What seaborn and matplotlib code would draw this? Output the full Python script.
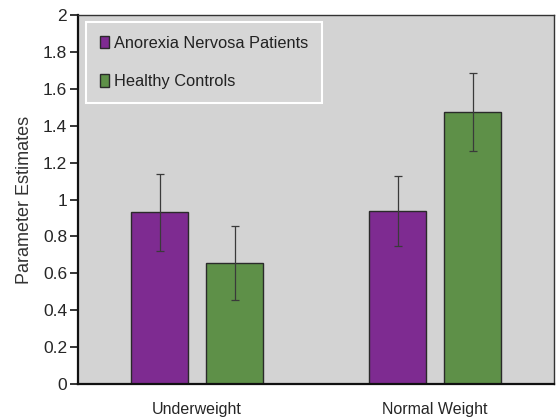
import pandas as pd
import matplotlib.pyplot as plt
import seaborn as sns

# values
conditions = ["Underweight", "Normal Weight"]
groups = ["Anorexia Nervosa Patients", "Healthy Controls"]
an_means = [0.93, 0.94]
hc_means = [0.655, 1.475]
an_err = [0.21, 0.19]
hc_err = [0.20, 0.21]
y_ticks = [0, 0.2, 0.4, 0.6, 0.8, 1, 1.2, 1.4, 1.6, 1.8, 2]
y_tick_labels = ["0", "0.2", "0.4", "0.6", "0.8", "1", "1.2", "1.4", "1.6", "1.8", "2"]

df = pd.DataFrame({
    "Condition": conditions * 2,
    "Group": [groups[0]] * 2 + [groups[1]] * 2,
    "Estimate": an_means + hc_means,
    "Err": an_err + hc_err,
})

sns.set_style("white")
plt.rcParams["font.family"] = ["Liberation Sans", "DejaVu Sans"]

fig = plt.figure(figsize=(5.58, 4.17), dpi=100)
ax = fig.add_axes([0.14, 0.079, 0.853, 0.885])
ax.set_facecolor("#d3d3d3")

palette = {groups[0]: "#7e2b91", groups[1]: "#5e9048"}
sns.barplot(data=df, x="Condition", y="Estimate", hue="Group", order=conditions,
            hue_order=groups, palette=palette, width=0.63, gap=0.23,
            errorbar=None, edgecolor="#2a2a2a", linewidth=1.0, saturation=1, ax=ax)

# error bars at the bar centres
for grp, cont in zip(groups, ax.containers):
    sub = df[df["Group"] == grp].set_index("Condition").loc[conditions]
    xs = [b.get_x() + b.get_width() / 2 for b in cont]
    ax.errorbar(xs, sub["Estimate"], yerr=sub["Err"], fmt="none",
                ecolor="#3a3a3a", elinewidth=0.9, capsize=3, capthick=0.9)

ax.set_ylim(0, 2)
ax.set_xlim(-0.5, 1.5)
ax.set_yticks(y_ticks)
ax.set_yticklabels(y_tick_labels, fontsize=12.5)
ax.tick_params(axis="y", length=6, width=1.3, direction="out", left=True, pad=2)
ax.tick_params(axis="x", length=0, labelsize=11.5, pad=13)
ax.set_xlabel("")
ax.set_ylabel("Parameter Estimates", fontsize=13, labelpad=7, color="#333333")

for side in ["left", "bottom"]:
    ax.spines[side].set_color("#111111")
    ax.spines[side].set_linewidth(1.6)
for side in ["top", "right"]:
    ax.spines[side].set_color("#333333")
    ax.spines[side].set_linewidth(1.0)

leg = ax.legend(loc="upper left", bbox_to_anchor=(0.016, 0.982), fontsize=11.8,
                frameon=True, fancybox=False, handlelength=0.6, handleheight=0.8,
                handletextpad=0.25, labelspacing=1.45, borderpad=0.85,
                borderaxespad=0, facecolor="#d6d6d6", edgecolor="white",
                framealpha=1)
leg.get_frame().set_linewidth(1.5)
for t in leg.get_texts():
    t.set_color("#222222")

fig.savefig("out.png", dpi=100)
